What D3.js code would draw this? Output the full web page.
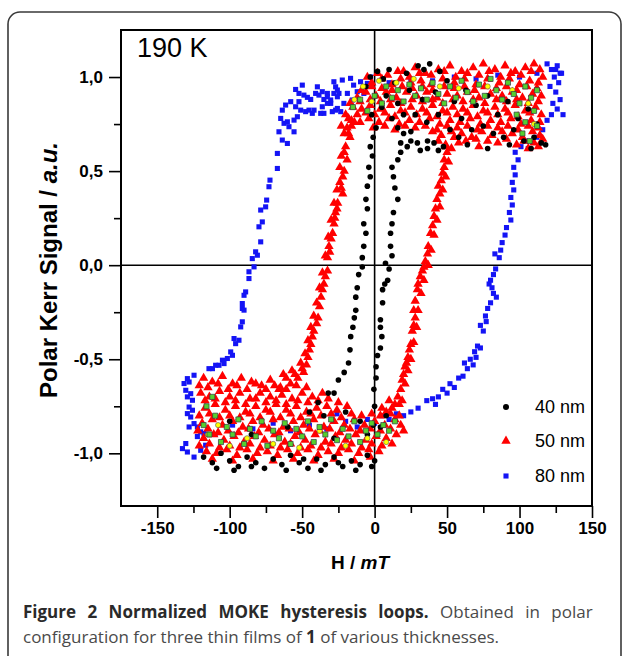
<!DOCTYPE html>
<html lang="en">
<head>
  <meta charset="UTF-8">
  <title>Normalized MOKE hysteresis loops</title>
  <script src="https://d3js.org/d3.v7.min.js"></script>
  <style>
    body { margin: 0; background: #fff; }
    .axis text { font-family: "Liberation Sans", Arial, sans-serif; font-weight: bold; font-size: 17px; fill: #000; }
    .axis path { display: none; }
    .axis line { stroke: #000; stroke-width: 1.6; }
    .axisTitle { font-family: "Liberation Sans", Arial, sans-serif; font-weight: bold; }
    .legendText { font-family: "Liberation Sans", Arial, sans-serif; font-size: 18px; }
    .caption { font-family: "Open Sans", sans-serif; font-size: 17px; fill: #4a4a4a; }
  </style>
</head>
<body>
<div id="chart"></div>
<script>
// ---- data (H in mT, normalized polar Kerr signal) ----
const seriesNames = ["40 nm", "50 nm", "80 nm"];
const xMajorTicks = [-150, -100, -50, 0, 50, 100, 150];
const xMinorTicks = [-125, -75, -25, 25, 75, 125];
const yMajorTicks = [-1, -0.5, 0, 0.5, 1];
const yMinorTicks = [-0.75, -0.25, 0.25, 0.75];

// 80 nm (blue squares)
const loop80 = [
  [128,1.02],[125,1.04],[119,1.07],[122,1.04],[126,1.06],[129,1.02],[124,1.0],[127,0.97],[121,0.95],[125,0.92],
  [128,0.88],[123,0.86],[126,0.83],[130,0.8],[122,0.8],[119,0.77],[116,0.72],[112,0.68],[106,0.62],[104,0.66],
  [101,0.63],[97,0.6],[99,0.56],[96,0.52],[97,0.48],[95,0.44],[96,0.4],[94,0.36],[95,0.32],[93,0.28],
  [94,0.24],[91,0.2],[90,0.16],[88,0.12],[87,0.08],[86,0.04],
  [83,0.06],[83.5,-0.02],[82,-0.05],[80,-0.08],[79,-0.1],[81,-0.12],[82,-0.15],[84,-0.17],[80,-0.2],[78,-0.23],
  [76.5,-0.27],[77,-0.3],[73,-0.32],[75,-0.35],[71,-0.43],[73,-0.44],[69,-0.46],[70,-0.49],[66,-0.5],[62,-0.52],
  [68,-0.53],[64,-0.55],[61,-0.59],[58,-0.6],[52,-0.63],[55,-0.65],[47,-0.66],[50,-0.68],[44,-0.7],[40,-0.71],
  [36,-0.72],[42,-0.74],[30,-0.76],[25,-0.78],[20,-0.8],[15,-0.79],[10,-0.82],[5,-0.8],[0,-0.84],[-5,-0.82],
  [-12,-0.86],[-20,-0.83],[-26,-0.79],[-33,-0.87],[-45,-0.85],[-58,-0.88],[-70,-0.84],[-84,-0.87],[-98,-0.85],[-110,-0.9],
  [10,0.97],[25,0.99],[40,0.98],[55,1.0],[70,0.99],[85,1.01],[100,1.0],[112,1.02],
  [-2.8,1.0],[-5,0.966],[-9.7,0.975],[-14.5,0.957],[-16.6,0.993],[-22.3,0.984],[-28.1,0.975],[-26.9,0.948],[-25.7,0.931],[-24.6,0.913],
  [-28.1,0.913],[-12,0.922],[-18.8,0.913],[-7.4,0.913],[-25.7,0.895],[-32.6,0.913],[-30.3,0.86],[-35,0.807],[-26.9,0.824],[-21.2,0.86],
  [-23.4,0.816],[-15.4,0.878],[-25.7,0.833],[-29.2,0.816],[-32.6,0.86],[-36.1,0.842],[-37.2,0.807],[-41.8,0.824],[-43,0.807],[-45.3,0.824],
  [-47.6,0.816],[-51,0.824],[-53.3,0.789],[-55.6,0.771],[-54.5,0.842],[-52.2,0.869],[-57.9,0.869],[-61.4,0.851],[-63.7,0.824],[-49.9,0.957],
  [-54.5,0.934],[-52.2,0.913],[-48.8,0.904],[-46.4,0.892],[-44.1,0.881],[-39.5,0.948],[-40.7,0.913],[-38.4,0.904],[-36.1,0.922],[-35,0.881],
  [-32.6,0.895],[-30.3,0.878],[-64.8,0.78],[-62.5,0.754],[-60.2,0.762],[-59.1,0.736],[-55.6,0.709],[-66,0.709],[-63.7,0.665],[-60.2,0.647],
  [-67.1,0.594],[-67.1,0.514],[-72.2,0.452],[-72.9,0.417],[-74.5,0.346],[-75.2,0.31],[-78.6,0.293],[-77.5,0.23],[-79.8,0.204],[-78.6,0.124],
  [-82.1,0.071],[-80.9,0.053],[-84.4,0.035],[-83.2,-0.009],[-86.7,-0.035],[-86.7,-0.071],[-89,-0.142],[-90.1,-0.16],[-91.3,-0.204],[-91.3,-0.23],
  [-90.1,-0.239],[-91.3,-0.301],[-92.4,-0.328],[-97,-0.39],[-93.6,-0.399],[-95.9,-0.417],[-99.3,-0.461],[-98.1,-0.479],[-101.6,-0.496],[-105,-0.505],
  [-103.9,-0.523],[-107.4,-0.532],[-109.7,-0.532],[-111.9,-0.55],[-114.3,-0.55],[-124.6,-0.585],[-129.2,-0.603],
  [-131.5,-0.629],[-128,-0.621],[-130.3,-0.665],[-126.9,-0.683],[-129.2,-0.7],[-125.7,-0.718],[-128,-0.754],[-125.7,-0.771],[-129.2,-0.789],[-126.9,-0.807],
  [-124.6,-0.842],[-122.3,-0.86],[-128,-0.86],[-120,-0.886],[-117.7,-0.895],[-130.3,-0.948],[-132.6,-0.975],[-129.2,-0.993],[-124.6,-1.02],[-120,-0.984],
  [-116.6,-0.957],[-122.3,-0.911]
];

// 40 nm (black circles)
const loop40 = [
  [-2,0.8],[1,0.73],[-1,0.68],[-3,0.63],[-1.5,0.58],[-4,0.52],[-3,0.47],[-5,0.42],[-6,0.35],[-5,0.3],
  [-7.5,0.22],[-6,0.17],[-7.5,0.1],[-8.5,0.04],[-8.5,-0.01],[-11,-0.05],[-12,-0.12],[-13,-0.17],[-13,-0.24],[-14,-0.28],
  [-15,-0.33],[-16.5,-0.38],[-17,-0.45],[-18,-0.52],[-21,-0.57],[-25,-0.61],[-28,-0.68],[-32,-0.68],[-39,-0.73],[-45,-0.78],
  [-1,-0.85],[0,-0.75],[-0.5,-0.66],[1,-0.6],[1,-0.54],[2,-0.48],[4,-0.44],[5,-0.38],[4,-0.33],[4,-0.29],
  [5.5,-0.2],[5.5,-0.13],[7,-0.1],[9,-0.08],[7.5,0.01],[10,-0.02],[12,0.05],[11,0.1],[11,0.17],[12,0.22],
  [13,0.28],[16,0.35],[14,0.41],[13,0.47],[12,0.52],[16,0.56],[18,0.6],[18,0.65],[22.5,0.63],[25,0.66],
  [29.5,0.65],[31.5,0.61],[36.5,0.62],[36.5,0.66],[41,0.65],[44,0.61],[47.5,0.63],[16,0.73],[20,0.7],[25,0.71],
  [2,1.03],[6,0.99],[10,1.04],[14,0.97],[22,1.02],[30,1.06],[34,1.04],[38,1.07],[45,1.03],[50,0.98],
  [8,0.9],[16,0.86],[24,0.93],[33,0.88],[42,0.92],[55,0.87],[63,0.93],[70,0.85],[78,0.9],[85,0.8],
  [92,0.87],[99,0.78],[106,0.83],[112,0.75],[60,0.78],[67,0.72],[75,0.74],[82,0.7],[89,0.68],[96,0.72],
  [103,0.66],[110,0.68],[115,0.65],[118,0.64],[52,0.72],[58,0.68],[28,0.8],[36,0.76],[44,0.8],[20,0.8],
  [5,0.84],[12,0.78],[-3,1.0],[-6,0.95],[64,0.64],[78,0.62],[93,0.64],[108,0.62],
  [-118,-1.02],[-112,-1.05],[-106,-1.0],[-100,-1.04],[-94,-1.07],[-88,-1.02],[-82,-1.05],[-76,-1.08],[-70,-1.03],[-64,-1.06],
  [-58,-1.01],[-52,-1.05],[-46,-1.08],[-40,-1.03],[-34,-1.06],[-28,-1.02],[-22,-1.07],[-16,-1.04],[-10,-1.06],[-5,-1.01],
  [0,-1.04],[-109,-1.08],[-97,-1.09],[-85,-1.07],[-61,-1.09],[-49,-1.03],[-37,-1.09],[-25,-1.05],[-13,-1.09],[-2,-1.07],
  [-100,-0.83],[-85,-0.9],[-60,-0.86],[-35,-0.8],[-20,-0.78],[-10,-0.83],[-5,-0.9],[-28,-0.92],[4,-0.86],[8,-0.8]
];

// 50 nm (red triangles)
const loop50 = [
  [-14,0.76],[-19,0.73],[-18,0.7],[-17,0.68],[-20,0.63],[-21,0.6],[-19,0.56],[-21,0.5],[-22,0.47],[-24,0.44],
  [-23,0.41],[-22,0.38],[-25.5,0.33],[-26,0.3],[-27,0.28],[-27.5,0.25],[-28,0.22],[-29,0.17],[-30,0.14],[-31.5,0.1],
  [-31,0.07],[-32.5,0.04],[-32.5,-0.03],[-34,-0.06],[-35,-0.1],[-36,-0.13],[-37,-0.17],[-38,-0.22],[-39,-0.28],[-40,-0.31],
  [-42,-0.35],[-43,-0.38],[-44,-0.42],[-45,-0.45],[-46,-0.49],[-47,-0.53],[-50,-0.55],[-49,-0.57],[-53,-0.6],[-55,-0.58],
  [-58,-0.63],[-61,-0.6],[-65,-0.65],
  [-16,0.74],[-21,0.7],[-23,0.58],[-24,0.52],[-26,0.4],[-28,0.33],[-30,0.24],[-32,0.15],[-34,0.05],[-36,-0.04],
  [-38,-0.12],[-40,-0.2],[-42,-0.27],[-44,-0.33],[-46,-0.4],[-48,-0.47],[-51,-0.52],[-57,-0.56],[-63,-0.58],
  [20,1.03],[28,1.05],[35,1.02],[44,1.04],[52,1.06],[60,1.03],[68,1.05],[75,1.07],[83,1.04],[90,1.06],
  [97,1.03],[104,1.05],[110,1.07],[114,1.04],
  [-5,1.0],[2,1.02],[9,1.01],[16,1.03],[24,1.0],[31,1.02],[39,1.01],[48,1.03],[56,1.0],[64,1.02],
  [72,1.01],[79,1.03],[87,1.0],[94,1.02],[101,1.01],[108,1.03],[116,1.0],
  [-2,0.97],[5,0.99],[12,0.96],[18,0.99],[25,0.97],[32,0.98],[39,0.96],[47,0.99],[55,0.97],[62,0.99],
  [70,0.96],[78,0.99],[86,0.97],[93,0.99],[100,0.96],[107,0.98],[113,0.97],
  [-9,0.93],[-2,0.95],[5,0.94],[12,0.93],[19,0.95],[26,0.94],[33,0.95],[40,0.93],[48,0.95],[55,0.94],
  [62,0.95],[69,0.93],[76,0.95],[84,0.94],[91,0.95],[98,0.93],[105,0.95],[112,0.94],
  [-12,0.89],[-6,0.92],[1,0.9],[8,0.92],[15,0.89],[22,0.92],[29,0.9],[36,0.92],[43,0.89],[50,0.91],
  [57,0.9],[64,0.92],[72,0.89],[80,0.91],[88,0.9],[95,0.92],[102,0.89],[109,0.91],[115,0.9],
  [-17,0.86],[-10,0.87],[-3,0.88],[4,0.87],[11,0.88],[18,0.86],[26,0.88],[33,0.87],[40,0.88],[47,0.86],
  [54,0.88],[61,0.87],[68,0.88],[76,0.86],[84,0.88],[91,0.87],[98,0.88],[106,0.86],[113,0.87],
  [-20,0.8],[-15,0.84],[-9,0.83],[-3,0.85],[4,0.83],[11,0.85],[18,0.82],[25,0.84],[33,0.83],[40,0.85],
  [47,0.82],[54,0.84],[61,0.83],[68,0.85],[75,0.82],[83,0.84],[90,0.83],[97,0.85],[104,0.82],[111,0.84],
  [-18,0.78],[-12,0.8],[-6,0.81],[0,0.8],[7,0.81],[14,0.79],[21,0.81],[29,0.8],[36,0.81],[43,0.79],
  [50,0.81],[57,0.8],[64,0.81],[71,0.79],[78,0.81],[85,0.8],[92,0.81],[99,0.79],[107,0.81],[115,0.8],
  [-23,0.74],[-16,0.77],[-10,0.76],[-4,0.78],[3,0.76],[10,0.78],[17,0.75],[24,0.77],[31,0.76],[38,0.78],
  [45,0.75],[52,0.77],[59,0.76],[66,0.78],[73,0.75],[80,0.77],[87,0.76],[94,0.78],[101,0.75],[108,0.77],
  [114,0.76],
  [-1,0.73],[7,0.74],[14,0.72],[21,0.74],[28,0.73],[35,0.74],[43,0.72],[50,0.74],[57,0.73],[64,0.74],
  [71,0.72],[78,0.74],[85,0.73],[92,0.74],[99,0.72],[106,0.74],[113,0.73],
  [40,0.71],[46,0.69],[53,0.71],[60,0.7],[67,0.68],[74,0.71],[81,0.69],[88,0.71],[95,0.7],[102,0.68],
  [109,0.71],[114,0.69],[44,0.66],[55,0.68],[63,0.66],[70,0.67],[78,0.66],[91,0.67],[103,0.66],[110,0.65],
  [116,0.67],[49,0.64],[58,0.65],[72,0.63],[85,0.65],[98,0.64],[106,0.62],[113,0.63],
  [16,-0.7],[18,-0.66],[19,-0.61],[21,-0.54],[23,-0.49],[25,-0.42],[26,-0.35],[28,-0.28],[28,-0.19],[29.5,-0.13],
  [31.5,-0.06],[34,-0.01],[36.5,0.06],[38.6,0.17],[41,0.26],[43,0.35],[44,0.42],[47,0.49],[48,0.56],[49,0.63],
  [17,-0.74],[20,-0.58],[22,-0.52],[24,-0.45],[27,-0.32],[27,-0.24],[30,-0.1],[33,-0.03],[35,0.02],[37,0.1],
  [40,0.21],[42,0.3],[45,0.38],[46,0.45],[48,0.52],[50,0.6],[12,-0.76],[8,-0.78],[5,-0.76],[10,-0.72],[14,-0.74],
  [19,-0.72],[21,-0.63],[23,-0.56],[25,-0.5],[27,-0.41],[29,-0.33],[30,-0.24],[32,-0.15],[34,-0.08],[37,0.0],
  [39,0.08],[41,0.16],[43,0.24],[45,0.31],[47,0.4],[49,0.47],[51,0.55],[53,0.62],
  [-118,-0.6],[-112,-0.62],[-105,-0.59],[-98,-0.63],[-92,-0.6],[-85,-0.62],[-78,-0.64],[-72,-0.61],[-66,-0.66],
  [-121,-0.64],[-115,-0.65],[-108,-0.63],[-101,-0.66],[-95,-0.64],[-88,-0.66],[-82,-0.63],[-75,-0.66],[-69,-0.64],[-61,-0.66],
  [-54,-0.64],[-47,-0.65],
  [-120,-0.68],[-114,-0.7],[-107,-0.67],[-100,-0.7],[-93,-0.68],[-86,-0.71],[-79,-0.68],[-72,-0.7],[-64,-0.69],[-57,-0.71],
  [-50,-0.68],[-43,-0.7],[-36,-0.68],
  [-117,-0.72],[-110,-0.71],[-103,-0.73],[-96,-0.72],[-89,-0.74],[-82,-0.71],[-75,-0.73],[-68,-0.72],[-61,-0.74],[-53,-0.72],
  [-46,-0.73],[-39,-0.72],[-32,-0.71],[-25,-0.73],
  [-117,-0.76],[-110,-0.74],[-103,-0.77],[-96,-0.75],[-89,-0.78],[-82,-0.75],[-75,-0.77],[-68,-0.74],[-61,-0.77],[-54,-0.75],
  [-47,-0.78],[-40,-0.76],[-33,-0.75],[-26,-0.77],[-19,-0.75],
  [-121,-0.8],[-114,-0.79],[-107,-0.81],[-100,-0.8],[-93,-0.81],[-86,-0.79],[-79,-0.81],[-72,-0.78],[-65,-0.81],[-58,-0.79],
  [-51,-0.81],[-44,-0.79],[-37,-0.8],[-30,-0.79],[-23,-0.81],[-16,-0.79],[-9,-0.8],[-2,-0.79],[4,-0.8],[11,-0.79],
  [17,-0.8],
  [-119,-0.84],[-112,-0.82],[-105,-0.85],[-98,-0.83],[-91,-0.86],[-84,-0.83],[-77,-0.85],[-70,-0.82],[-63,-0.86],[-56,-0.83],
  [-49,-0.85],[-42,-0.82],[-35,-0.86],[-28,-0.83],[-21,-0.85],[-14,-0.82],[-7,-0.85],[0,-0.83],[7,-0.85],[14,-0.82],
  [-122,-0.88],[-115,-0.87],[-108,-0.89],[-101,-0.88],[-94,-0.89],[-87,-0.87],[-80,-0.89],[-73,-0.87],[-66,-0.89],[-59,-0.87],
  [-52,-0.89],[-45,-0.87],[-38,-0.88],[-31,-0.87],[-24,-0.89],[-17,-0.87],[-10,-0.88],[-3,-0.87],[4,-0.88],[11,-0.87],
  [18,-0.85],
  [-118,-0.92],[-111,-0.9],[-104,-0.93],[-97,-0.91],[-90,-0.94],[-83,-0.91],[-76,-0.93],[-69,-0.9],[-62,-0.94],[-55,-0.91],
  [-48,-0.93],[-41,-0.9],[-34,-0.94],[-27,-0.91],[-20,-0.93],[-13,-0.9],[-6,-0.93],[1,-0.91],[8,-0.92],[15,-0.9],
  [20,-0.88],
  [-121,-0.96],[-114,-0.95],[-107,-0.97],[-100,-0.96],[-93,-0.97],[-86,-0.95],[-79,-0.97],[-72,-0.96],[-65,-0.97],[-58,-0.95],
  [-51,-0.97],[-44,-0.96],[-37,-0.97],[-30,-0.95],[-23,-0.97],[-16,-0.95],[-9,-0.97],[-2,-0.95],[5,-0.96],[12,-0.95],
  [-116,-0.99],[-109,-1.0],[-102,-0.98],[-95,-1.01],[-88,-0.98],[-81,-1.0],[-74,-0.99],[-67,-1.01],[-60,-0.98],[-53,-1.0],
  [-46,-0.98],[-39,-1.01],[-32,-0.99],[-25,-1.0],[-18,-0.98],[-11,-1.0],[-4,-0.98],[3,-0.99],
  [-112,-1.03],[-98,-1.04],[-84,-1.03],[-70,-1.04],[-56,-1.03],[-42,-1.04],[-28,-1.03],[-14,-1.04],[-3,-1.02]
];

// unlabeled overlay points (green squares, yellow circles)
const extraGreen = [
  [-15,0.84],[-10,0.88],[-5,0.82],[0,0.9],[5,0.86],[8,0.95],[12,0.89],[16,0.93],[20,0.87],[24,0.96],
  [28,0.9],[32,0.94],[36,0.88],[40,0.97],[44,0.91],[48,0.86],[52,0.95],[56,0.89],[60,0.98],[64,0.92],
  [68,0.87],[72,0.96],[76,0.9],[80,0.99],[84,0.93],[88,0.88],[92,0.97],[96,0.91],[100,0.86],[104,0.95],
  [108,0.89],[112,0.93],[98,0.8],[104,0.76],[110,0.82],[102,0.7],[107,0.66],[112,0.74],
  [-118,-0.85],[-114,-0.9],[-110,-0.8],[-106,-0.94],[-102,-0.86],[-98,-0.9],[-94,-0.82],[-90,-0.95],[-86,-0.87],[-82,-0.91],
  [-78,-0.83],[-74,-0.96],[-70,-0.88],[-66,-0.92],[-62,-0.84],[-58,-0.95],[-54,-0.87],[-50,-0.91],[-46,-0.83],[-42,-0.94],
  [-38,-0.86],[-34,-0.9],[-30,-0.82],[-26,-0.93],[-22,-0.87],[-18,-0.91],[-14,-0.83],[-10,-0.94],[-6,-0.88],[-2,-0.84],
  [2,-0.9],[6,-0.85],[10,-0.88],[14,-0.83],[-116,-0.75],[-112,-0.7]
];
const extraYellow = [
  [-8,0.95],[3,0.98],[15,0.97],[27,0.99],[45,0.95],[58,0.94],[78,0.95],[95,0.93],[106,0.86],[110,0.75],
  [-14,0.88],[-2,0.87],
  [-115,-0.9],[-100,-0.96],[-88,-0.92],[-70,-0.95],[-52,-0.97],[-38,-0.88],[-20,-0.96],[-5,-0.92],
  [8,-0.94],[-108,-0.85]
];

// ---- layout ----
const width = 629, height = 656;
const frame = { left: 121, right: 592, top: 30, bottom: 506 };

const svg = d3.select("#chart").append("svg")
  .attr("width", width)
  .attr("height", height);

// outer figure box
svg.append("rect")
  .attr("x", 8).attr("y", 12)
  .attr("width", 613).attr("height", 660)
  .attr("rx", 12)
  .attr("fill", "none")
  .attr("stroke", "#3a3a3a")
  .attr("stroke-width", 1.6);

const x = d3.scaleLinear().domain([-175, 150]).range([frame.left, frame.right]);
const y = d3.scaleLinear().domain([-1.28, 1.25]).range([frame.bottom, frame.top]);

const loc = d3.formatLocale({ decimal: ",", thousands: ".", grouping: [3], currency: ["", ""], minus: "-" });
const fmtY = loc.format(".1f");
const fmtX = loc.format("d");

// minor ticks
svg.append("g").attr("class", "axis")
  .attr("transform", `translate(0,${frame.bottom})`)
  .call(d3.axisBottom(x).tickValues(xMinorTicks).tickSize(7).tickFormat(""));
svg.append("g").attr("class", "axis")
  .attr("transform", `translate(${frame.left},0)`)
  .call(d3.axisLeft(y).tickValues(yMinorTicks).tickSize(7).tickFormat(""));

// major ticks
svg.append("g").attr("class", "axis")
  .attr("transform", `translate(0,${frame.bottom})`)
  .call(d3.axisBottom(x).tickValues(xMajorTicks).tickSize(12).tickPadding(4).tickFormat(fmtX));
svg.append("g").attr("class", "axis")
  .attr("transform", `translate(${frame.left},0)`)
  .call(d3.axisLeft(y).tickValues(yMajorTicks).tickSize(12).tickPadding(6).tickFormat(fmtY));

// plot frame
svg.append("rect")
  .attr("x", frame.left).attr("y", frame.top)
  .attr("width", frame.right - frame.left)
  .attr("height", frame.bottom - frame.top)
  .attr("fill", "none")
  .attr("stroke", "#000")
  .attr("stroke-width", 2);

// zero lines
svg.append("line")
  .attr("x1", frame.left).attr("x2", frame.right)
  .attr("y1", y(0)).attr("y2", y(0))
  .attr("stroke", "#000").attr("stroke-width", 1.6);
svg.append("line")
  .attr("x1", x(0)).attr("x2", x(0))
  .attr("y1", frame.top).attr("y2", frame.bottom)
  .attr("stroke", "#000").attr("stroke-width", 1.6);

const plot = svg.append("g");

const squareSym = d3.symbol().type(d3.symbolSquare).size(26);
const triSym = d3.symbol().type(d3.symbolTriangle).size(38);

// 80 nm
plot.append("g").selectAll("path")
  .data(loop80).enter().append("path")
  .attr("d", squareSym)
  .attr("transform", d => `translate(${x(d[0])},${y(d[1])})`)
  .attr("fill", "#1414f5");

// 50 nm
plot.append("g").selectAll("path")
  .data(loop50).enter().append("path")
  .attr("d", triSym)
  .attr("transform", d => `translate(${x(d[0])},${y(d[1])})`)
  .attr("fill", "#ff0000");

// 40 nm
plot.append("g").selectAll("circle")
  .data(loop40).enter().append("circle")
  .attr("cx", d => x(d[0]))
  .attr("cy", d => y(d[1]))
  .attr("r", 2.8)
  .attr("fill", "#000");

// overlays
plot.append("g").selectAll("circle")
  .data(extraYellow).enter().append("circle")
  .attr("cx", d => x(d[0]))
  .attr("cy", d => y(d[1]))
  .attr("r", 2.6)
  .attr("fill", "#ffff00")
  .attr("stroke", "#555")
  .attr("stroke-width", 0.6);

plot.append("g").selectAll("path")
  .data(extraGreen).enter().append("path")
  .attr("d", d3.symbol().type(d3.symbolSquare).size(26))
  .attr("transform", d => `translate(${x(d[0])},${y(d[1])})`)
  .attr("fill", "#55d030")
  .attr("stroke", "#334")
  .attr("stroke-width", 0.7);

// temperature label
svg.append("text")
  .attr("x", 137).attr("y", 57)
  .attr("font-family", "Liberation Sans, Arial, sans-serif")
  .attr("font-size", 27)
  .text("190 K");

// axis titles
const yTitle = svg.append("text")
  .attr("class", "axisTitle")
  .attr("font-size", 24)
  .attr("transform", `translate(57,${(frame.top + frame.bottom) / 2 + 2}) rotate(-90)`)
  .attr("text-anchor", "middle");
yTitle.append("tspan").text("Polar Kerr Signal / ");
yTitle.append("tspan").attr("font-style", "italic").text("a.u.");

const xTitle = svg.append("text")
  .attr("class", "axisTitle")
  .attr("font-size", 19)
  .attr("x", 360).attr("y", 569)
  .attr("text-anchor", "middle");
xTitle.append("tspan").text("H / ");
xTitle.append("tspan").attr("font-style", "italic").text("mT");

// legend
const legendY = [407, 441, 476];
const legend = svg.append("g");
seriesNames.forEach((name, i) => {
  const cx = 506, cy = legendY[i];
  if (i === 0) {
    legend.append("circle").attr("cx", cx).attr("cy", cy).attr("r", 3).attr("fill", "#000");
  } else if (i === 1) {
    legend.append("path").attr("d", triSym).attr("transform", `translate(${cx},${cy})`).attr("fill", "#ff0000");
  } else {
    legend.append("path").attr("d", squareSym).attr("transform", `translate(${cx},${cy})`).attr("fill", "#1414f5");
  }
  legend.append("text")
    .attr("class", "legendText")
    .attr("x", 535).attr("y", cy + 6)
    .text(name);
});

// caption (first line justified like the journal layout)
const cap1 = svg.append("text").attr("class", "caption")
  .attr("x", 23).attr("y", 618)
  .attr("word-spacing", 7);
cap1.append("tspan").attr("font-weight", "bold").attr("fill", "#2a2a2a").text("Figure 2 Normalized MOKE hysteresis loops.");
cap1.append("tspan").text(" Obtained in polar");
const cap2 = svg.append("text").attr("class", "caption").attr("x", 23).attr("y", 643);
cap2.append("tspan").text("configuration for three thin films of ");
cap2.append("tspan").attr("font-weight", "bold").attr("fill", "#2a2a2a").text("1");
cap2.append("tspan").text(" of various thicknesses.");
</script>
</body>
</html>
